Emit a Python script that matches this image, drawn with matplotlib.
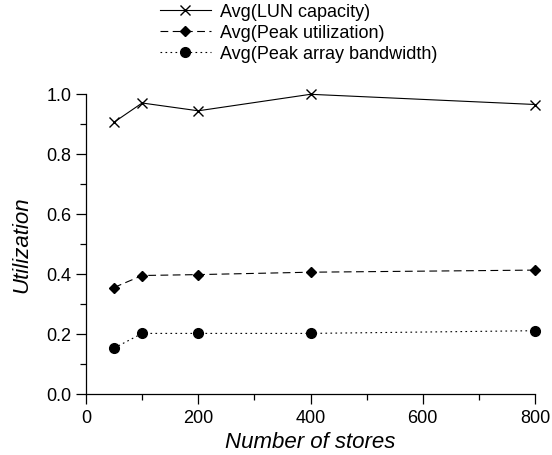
import matplotlib
matplotlib.use("Agg")
import matplotlib.pyplot as plt
from matplotlib.ticker import MultipleLocator

plt.rcParams["font.family"] = ["Liberation Sans", "DejaVu Sans"]

stores = [50, 100, 200, 400, 800]
lun_capacity = [0.906, 0.970, 0.944, 0.999, 0.965]
peak_util = [0.355, 0.395, 0.398, 0.406, 0.413]
peak_bandwidth = [0.153, 0.202, 0.202, 0.202, 0.211]

labels = ["Avg(LUN capacity)", "Avg(Peak utilization)", "Avg(Peak array bandwidth)"]

fig = plt.figure(figsize=(5.52, 4.56), dpi=100)
ax = fig.add_axes([86 / 552, 61 / 456, 449 / 552, 300 / 456])

lw = 0.8
ax.plot(stores, lun_capacity, color="black", lw=lw, ls="-", marker="x",
        ms=7, mew=1.0, label=labels[0], clip_on=False)
ax.plot(stores, peak_util, color="black", lw=lw, ls=(0, (7, 4)), marker="D",
        ms=5, label=labels[1], clip_on=False)
ax.plot(stores, peak_bandwidth, color="black", lw=lw, ls=(0, (1.5, 3)), marker="o",
        ms=7, label=labels[2], clip_on=False)

ax.set_xlim(0, 800)
ax.set_ylim(0, 1.0)
ax.xaxis.set_major_locator(MultipleLocator(200))
ax.xaxis.set_minor_locator(MultipleLocator(100))
ax.yaxis.set_major_locator(MultipleLocator(0.2))
ax.yaxis.set_minor_locator(MultipleLocator(0.1))
ax.yaxis.set_major_formatter(plt.FormatStrFormatter("%.1f"))

ax.spines["top"].set_visible(False)
ax.spines["right"].set_visible(False)
for s in ("left", "bottom"):
    ax.spines[s].set_linewidth(0.9)

ax.tick_params(which="major", direction="out", length=7, width=0.9, labelsize=13)
ax.tick_params(which="minor", direction="out", length=4, width=0.9)

ax.set_xlabel("Number of stores", fontsize=16, style="italic", labelpad=4)
ax.set_ylabel("Utilization", fontsize=16, style="italic", labelpad=10)

fig.legend(loc="upper left", bbox_to_anchor=(160 / 552, 1 - 4 / 456),
           frameon=False, fontsize=13, handlelength=2.8, handletextpad=0.5,
           labelspacing=0.22, borderpad=0, borderaxespad=0)

fig.savefig("out.png", dpi=100)
